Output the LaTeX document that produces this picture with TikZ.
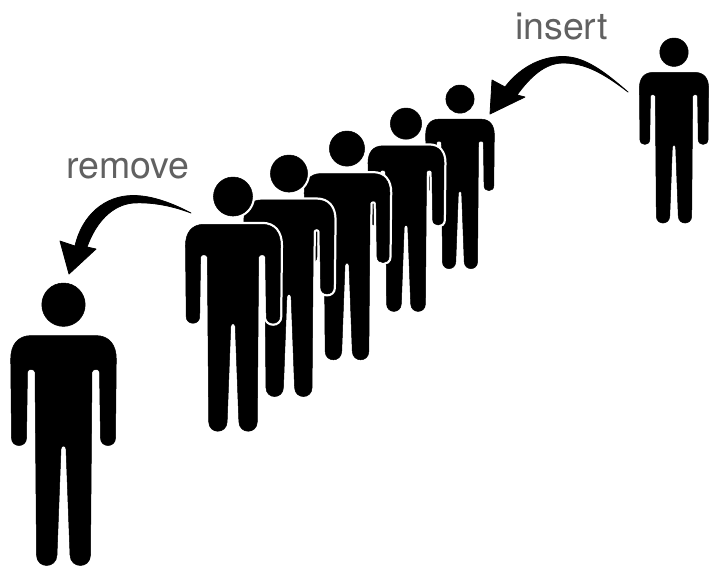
\documentclass[tikz,border=0pt]{standalone}
\usepackage{fontspec}
\setmainfont{TeX Gyre Heros}
\tikzset{
  figure/.style={fill=black,draw=black,line width=0.5pt,line join=round,preaction={draw=white,line width=5pt}},
  swoosh/.style={fill=black,draw=black,line width=0.8pt,line join=round},
  caption/.style={text=black!62,font=\fontsize{37.5pt}{40pt}\selectfont,inner sep=0pt,anchor=base}
}
\newcommand{\personfig}[3]{%
 \begin{scope}[shift={(#1,#2)},scale=#3]
  \path[figure] (0,21.7) circle[radius=21.7];
  \path[figure] (-32,52.5) -- (32,52.5)
    .. controls (46,52.5) and (52.8,62) .. (52.8,76)
    -- (52,155) .. controls (52,165) and (37,165) .. (37,155)
    -- (36,89) .. controls (36,85.5) and (29,85.5) .. (28.5,89)
    -- (27,272) .. controls (26.8,286) and (7,286) .. (6.5,272)
    -- (2.5,166) .. controls (2.3,162) and (-2.3,162) .. (-2.5,166)
    -- (-6.5,272) .. controls (-7,286) and (-26.8,286) .. (-27,272)
    -- (-28.5,89) .. controls (-29,85.5) and (-36,85.5) .. (-36,89)
    -- (-37,155) .. controls (-37,165) and (-52,165) .. (-52,155)
    -- (-52.8,76) .. controls (-52.8,62) and (-46,52.5) .. (-32,52.5) -- cycle;
 \end{scope}}
\begin{document}
\begin{tikzpicture}[x=1pt,y=-1pt]
\useasboundingbox (0,0) rectangle (719,566);
\fill[white] (0,0) rectangle (719,566);
\personfig{460}{85}{0.65}
\personfig{406}{108}{0.72}
\personfig{347}{131}{0.81}
\personfig{289}{155}{0.855}
\personfig{233}{177}{0.90}
\personfig{674}{38}{0.655}
\personfig{63.5}{283}{1}
\node[caption] (ins) at (561.5,39) {insert};
\node[caption] (rem) at (128,178) {remove};
% insert arrow
\path[swoosh] (628,92) .. controls (602,72) and (584,63) .. (563,63)
  .. controls (545,63) and (530,77) .. (517,95)
  -- (525,97) -- (490,114) -- (492,80) -- (505,87)
  .. controls (518,70) and (538,56.5) .. (563,56.5)
  .. controls (585,56.5) and (605,72) .. (628,92) -- cycle;
% remove arrow
\path[swoosh] (191,213) .. controls (170,205) and (150,202) .. (133,203)
  .. controls (112,205) and (96,222) .. (87,247)
  -- (96,249) -- (69,274) -- (60,241) -- (75,246)
  .. controls (82,215) and (105,195.5) .. (133,195.5)
  .. controls (152,195.5) and (172,203) .. (191,213) -- cycle;
\end{tikzpicture}
\end{document}
